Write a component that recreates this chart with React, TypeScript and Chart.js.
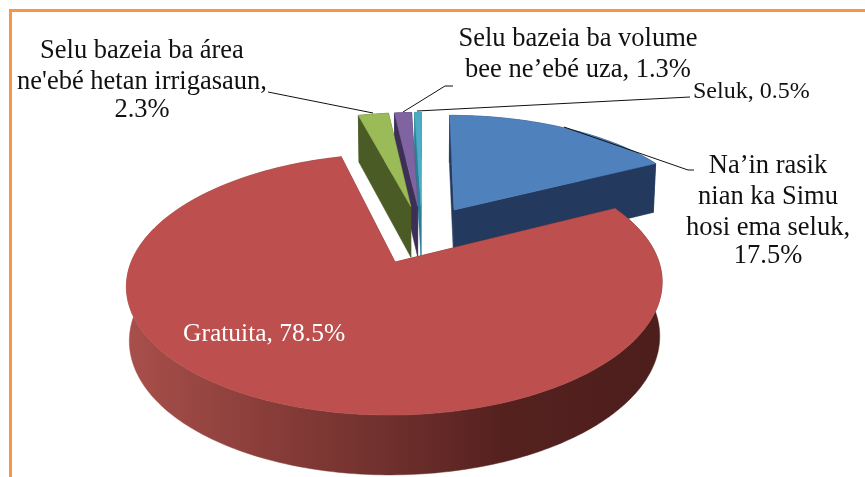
import React, { useEffect, useRef } from "react";
import { Chart, registerables } from "chart.js";

Chart.register(...registerables);

const categories = [
  "Na’in rasik nian ka Simu hosi ema seluk",
  "Gratuita",
  "Selu bazeia ba área ne'ebé hetan irrigasaun",
  "Selu bazeia ba volume bee ne’ebé uza",
  "Seluk",
];
const values = [17.5, 78.5, 2.3, 1.3, 0.5];
const topColors = ["#4f81bd", "#bd504e", "#9bbb59", "#8064a2", "#4bacc6"];
const wallColors = ["#233a5e", "#6e2c2a", "#4b5b26", "#3d2f56", "#2a7f96"];
const labelLines = [
  ["Na’in rasik", "nian ka Simu", "hosi ema seluk,", "17.5%"],
  ["Gratuita, 78.5%"],
  ["Selu bazeia ba área", "ne'ebé hetan irrigasaun,", "2.3%"],
  ["Selu bazeia ba volume", "bee ne’ebé uza, 1.3%"],
  ["Seluk, 0.5%"],
];

const FONT = '"Liberation Serif", "Times New Roman", serif';
const CX = 422, CY = 234.2, A = 254, B = 117.5, P = 0.1645, E = 0.25;

const project = (U: number, V: number) => {
  const s = 1 / (1 - P * V);
  return { x: CX + A * U * s, y: CY + B * V * s, s };
};
const lower = (p: { x: number; y: number; s: number }) => ({
  x: CX + (p.x - CX) * 0.99,
  y: p.y + 21 + 31 * p.s,
  s: p.s,
});

const poly = (ctx: CanvasRenderingContext2D, pts: { x: number; y: number }[], fill: any) => {
  ctx.beginPath();
  pts.forEach((p, i) => (i ? ctx.lineTo(p.x, p.y) : ctx.moveTo(p.x, p.y)));
  ctx.closePath();
  ctx.fillStyle = fill;
  ctx.fill();
  ctx.strokeStyle = fill;
  ctx.lineWidth = 0.5;
  ctx.stroke();
};

const pie3d = {
  id: "pie3d",
  beforeDatasetDraw(chart: any) {
    const ctx: CanvasRenderingContext2D = chart.ctx;
    const arcs = chart.getDatasetMeta(0).data;
    ctx.save();
    [0, 4, 3, 2, 1].forEach((i) => {
      const { startAngle, endAngle } = arcs[i];
      const mid = (startAngle + endAngle) / 2;
      const ox = E * Math.cos(mid), oy = E * Math.sin(mid);
      const rim: any[] = [];
      const n = Math.max(2, Math.ceil(((endAngle - startAngle) * 180) / Math.PI));
      for (let k = 0; k <= n; k++) {
        const a = startAngle + ((endAngle - startAngle) * k) / n;
        rim.push(project(ox + Math.cos(a), oy + Math.sin(a)));
      }
      const apex = project(ox, oy);
      let wall: any = wallColors[i];
      if (i === 1) {
        const g = ctx.createLinearGradient(128, 0, 662, 0);
        g.addColorStop(0, "#a84f4b");
        g.addColorStop(0.25, "#8a3e3a");
        g.addColorStop(0.5, "#6e2f2c");
        g.addColorStop(0.7, "#55211f");
        g.addColorStop(1, "#4c1e1c");
        wall = g;
      }
      poly(ctx, [apex, rim[0], lower(rim[0]), lower(apex)], wall);
      poly(ctx, [apex, rim[n], lower(rim[n]), lower(apex)], wall);
      poly(ctx, [...rim, ...rim.map(lower).reverse()], wall);
      poly(ctx, [apex, ...rim], topColors[i]);
    });
    ctx.restore();
    return false;
  },
  afterDraw(chart: any) {
    const ctx: CanvasRenderingContext2D = chart.ctx;
    ctx.save();
    // frame
    ctx.strokeStyle = "#f79646";
    ctx.lineWidth = 3;
    ctx.beginPath();
    ctx.moveTo(10.5, 477);
    ctx.lineTo(10.5, 10.5);
    ctx.lineTo(865, 10.5);
    ctx.stroke();
    // leader lines
    const leaders = [
      [[694, 170], [688, 170], [564, 127]],
      [[268, 92], [373, 113]],
      [[453, 86], [445, 86], [403, 112]],
      [[690, 97], [417, 111]],
    ];
    ctx.strokeStyle = "#111";
    ctx.lineWidth = 1;
    leaders.forEach((l) => {
      ctx.beginPath();
      l.forEach(([x, y], i) => (i ? ctx.lineTo(x, y) : ctx.moveTo(x, y)));
      ctx.stroke();
    });
    // labels
    ctx.font = `26.5px ${FONT}`;
    ctx.textBaseline = "alphabetic";
    const place = (i: number, align: CanvasTextAlign, x: number, ys: number[], color: string) => {
      ctx.textAlign = align;
      ctx.fillStyle = color;
      labelLines[i].forEach((t, k) => ctx.fillText(t, x, ys[k]));
    };
    place(0, "center", 768, [173, 204, 235, 263], "#111");
    place(2, "center", 142, [58, 89, 117], "#111");
    place(3, "center", 578, [46, 77], "#111");
    ctx.font = `25.5px ${FONT}`;
    place(1, "left", 183, [341], "#fff");
    ctx.font = `24px ${FONT}`;
    place(4, "left", 693, [98], "#111");
    ctx.restore();
  },
};

export default function App() {
  const ref = useRef<HTMLCanvasElement>(null);
  useEffect(() => {
    const chart = new Chart(ref.current!, {
      type: "pie",
      data: {
        labels: categories,
        datasets: [{ data: values, backgroundColor: topColors, borderWidth: 0 }],
      },
      options: {
        responsive: false,
        animation: false,
        plugins: { legend: { display: false }, tooltip: { enabled: false } },
      },
      plugins: [pie3d],
    } as any);
    return () => chart.destroy();
  }, []);
  return (
    <canvas
      ref={ref}
      width={865}
      height={477}
      style={{ position: "fixed", left: 0, top: 0, display: "block", background: "#fff" }}
    />
  );
}
